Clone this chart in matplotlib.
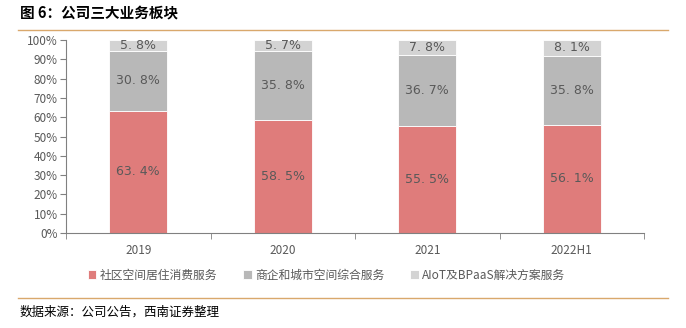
import numpy as np
import matplotlib.pyplot as plt
from matplotlib.lines import Line2D
from matplotlib.ticker import PercentFormatter

plt.rcParams['font.family'] = ['Noto Sans CJK SC', 'DejaVu Sans']

# date
categorii = ['2019', '2020', '2021', '2022H1']
serii = ['社区空间居住消费服务', '商企和城市空间综合服务', 'AIoT及BPaaS解决方案服务']
comunitate = [63.4, 58.5, 55.5, 56.1]
comercial = [30.8, 35.8, 36.7, 35.8]
aiot = [5.8, 5.7, 7.8, 8.1]
culori = ['#DF7C7B', '#B8B8B8', '#D3D3D3']

fig = plt.figure(figsize=(6.86, 3.28), dpi=100)
ax = fig.add_axes([66 / 686, 1 - 233 / 328, 578 / 686, 193 / 328])

x = np.arange(len(categorii))
jos = np.zeros(len(categorii))
for nume, vals, c in zip(serii, [comunitate, comercial, aiot], culori):
    bare = ax.bar(x, vals, 0.4, bottom=jos, color=c, label=nume,
                  edgecolor='white', linewidth=0.6)
    ax.bar_label(bare, labels=[f'{v:.1f}%'.replace('.', '. ') for v in vals],
                 label_type='center', color='#595959', fontsize=9,
                 family='DejaVu Sans')
    jos += np.array(vals)

ax.set_xlim(-0.5, len(categorii) - 0.5)
ax.set_ylim(0, 100)
ax.set_yticks(np.arange(0, 101, 10))
ax.yaxis.set_major_formatter(PercentFormatter(decimals=0))
ax.set_xticks(x)
ax.set_xticklabels(categorii)
ax.set_xticks(np.arange(-0.5, len(categorii), 1), minor=True)
ax.tick_params(axis='x', which='major', length=0, pad=8)
ax.tick_params(axis='x', which='minor', length=4, color='#808080')
ax.tick_params(axis='y', length=4, color='#808080', pad=2)
ax.tick_params(labelsize=8.5, labelcolor='#595959')
for s in ['top', 'right']:
    ax.spines[s].set_visible(False)
for s in ['left', 'bottom']:
    ax.spines[s].set_color('#808080')

leg = fig.legend(*ax.get_legend_handles_labels(), loc='center left',
                 bbox_to_anchor=(88 / 686, 1 - 275 / 328), ncol=3,
                 frameon=False, fontsize=8.5, labelcolor='#595959',
                 handlelength=0.7, handleheight=0.7, handletextpad=0.3,
                 columnspacing=2.2, borderpad=0, borderaxespad=0)

# titlu si sursa
fig.text(20 / 686, 1 - 12 / 328, '图 6：公司三大业务板块', fontsize=10.5,
         fontweight='bold', va='center', color='black')
fig.add_artist(Line2D([18 / 686, 668 / 686], [1 - 30 / 328] * 2, color='#D9A86C', lw=1))
fig.add_artist(Line2D([18 / 686, 668 / 686], [1 - 298 / 328] * 2, color='#D9A86C', lw=1))
fig.text(20 / 686, 1 - 312 / 328, '数据来源：公司公告，西南证券整理', fontsize=9,
         style='italic', va='center', color='black')

plt.savefig('out.png', dpi=100)
